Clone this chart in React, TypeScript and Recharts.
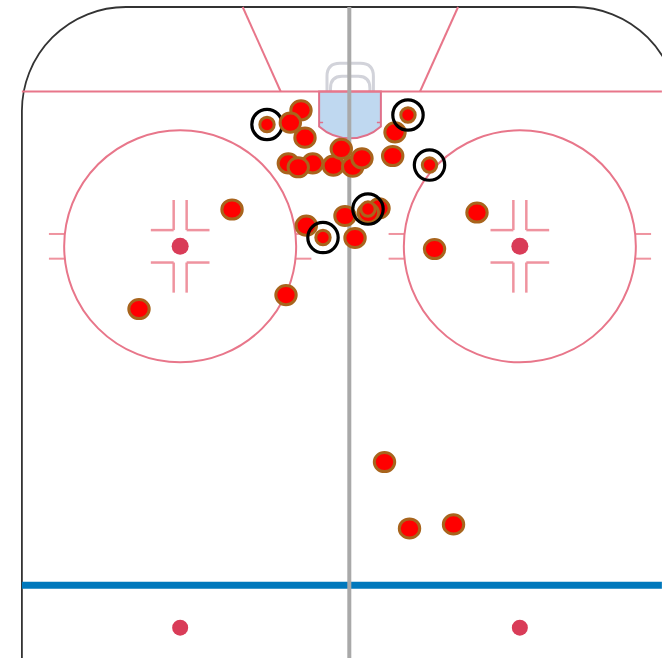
import React from 'react';
import { ScatterChart, Scatter, XAxis, YAxis, ReferenceLine, ReferenceDot, ReferenceArea } from 'recharts';

// all values are in feet: x from centre ice line, y from the end boards
const shotX = [-6.35, -5.83, 5.83, 5.53, -7.99, -4.83, -6.7, -2.16, 0.35, -1.13, 1.55, -0.65, 3.76, 2.37, -5.66, 0.65, 10.95, 16.45, -15.28, -27.33, -8.29, 4.47, 7.71, 13.41];
const shotY = [13.38, 16.93, 16.23, 19.3, 20.25, 20.25, 20.76, 20.56, 20.69, 18.39, 19.6, 27.07, 26.08, 26.68, 28.33, 29.92, 31.35, 26.62, 26.23, 39.12, 37.31, 58.94, 67.55, 67.03];
const goalX = [-10.75, 7.51, 10.3, 2.33, -3.5];
const goalY = [15.22, 13.99, 20.47, 26.17, 29.86];
// this shot sits on top of the ring next to it
const lateShotX = [-7.73];
const lateShotY = [14.99];

const shots = shotX.map((x, i) => ({ x, y: shotY[i] }));
const goals = goalX.map((x, i) => ({ x, y: goalY[i] }));
const lateShots = lateShotX.map((x, i) => ({ x, y: lateShotY[i] }));

const faceoffX = [-22, 22];
const neutralDotY = 80.4;
const faceoffY = 31;

const W = 662;
const H = 658;
const PX_PER_FT = 7.72;
const xDomain = [-350 / PX_PER_FT, 312 / PX_PER_FT];
const yDomain = [-7 / PX_PER_FT, 651 / PX_PER_FT];

const PINK = '#e8768a';
const HASH = '#ef939f';
const DOT = '#d93c58';

const ShotMark = (props: any) => (
  <ellipse cx={props.cx} cy={props.cy} rx={10.2} ry={9.6} fill="#ff0000" stroke="#a8641c" strokeWidth={3} />
);
const GoalMark = (props: any) => (
  <circle cx={props.cx} cy={props.cy} r={7.2} fill="#ff0000" stroke="#a8641c" strokeWidth={3} />
);
const GoalRing = (props: any) => (
  <circle cx={props.cx} cy={props.cy} r={15.2} fill="none" stroke="#000" strokeWidth={3.2} />
);

const Boards = (props: any) => (
  <rect x={props.x} y={props.y} width={props.width} height={props.height} rx={104} ry={104} fill="none" stroke="#333" strokeWidth={1.8} />
);

const Crease = (props: any) => {
  const { x, y, width } = props;
  const r = (width * 6) / 8;
  const side = y + 35;
  return (
    <g>
      <path d={`M${x},${y} V${side} A${r},${r} 0 0 0 ${x + width},${side} V${y} Z`} fill="#bfd8f0" stroke="#e0708a" strokeWidth={2} />
      <path d={`M${x},${y + 31} h4 M${x + width},${y + 31} h-4`} stroke="#e0708a" strokeWidth={1.5} />
    </g>
  );
};

const Net = (props: any) => {
  const { x, y, width, height } = props;
  const inner = 3.5;
  return (
    <g fill="none" stroke="#d2d3da" strokeWidth={3}>
      <path d={`M${x},${y + height} V${y + 13} Q${x},${y} ${x + 13},${y} H${x + width - 13} Q${x + width},${y} ${x + width},${y + 13} V${y + height}`} />
      <path d={`M${x + inner},${y + height} V${y + 25} Q${x + inner},${y + 13} ${x + 15},${y + 13} H${x + width - 15} Q${x + width - inner},${y + 13} ${x + width - inner},${y + 25} V${y + height}`} />
    </g>
  );
};

const seg = (x1: number, y1: number, x2: number, y2: number, stroke: string, w: number, key: string) => (
  <ReferenceLine
    key={key}
    segment={[{ x: x1, y: y1 }, { x: x2, y: y2 }]}
    stroke={stroke}
    strokeWidth={w}
    ifOverflow="visible"
  />
);

const faceoffMarks = (cx: number) => {
  const out: any[] = [];
  [-1, 1].forEach((sx) => {
    [-1, 1].forEach((sy) => {
      const k = `${cx}-${sx}-${sy}`;
      // L shaped hash marks round the dot
      out.push(seg(cx + sx * 0.84, faceoffY + sy * 2.1, cx + sx * 0.84, faceoffY + sy * 6, HASH, 2.5, `v${k}`));
      out.push(seg(cx + sx * 0.84, faceoffY + sy * 2.1, cx + sx * 3.8, faceoffY + sy * 2.1, HASH, 2.5, `h${k}`));
      // ticks outside the circle
      out.push(seg(cx + sx * 15, faceoffY + sy * 1.6, cx + sx * 17, faceoffY + sy * 1.6, HASH, 2, `t${k}`));
    });
  });
  return out;
};

export default function App() {
  return (
    <div style={{ position: 'absolute', left: 0, top: 0, width: W, height: H, overflow: 'hidden' }}>
      <ScatterChart width={W} height={H} margin={{ top: 0, right: 0, bottom: 0, left: 0 }}>
        <XAxis type="number" dataKey="x" hide domain={xDomain} allowDataOverflow />
        <YAxis type="number" dataKey="y" hide domain={yDomain} reversed allowDataOverflow />

        <ReferenceArea x1={-42.5} x2={42.5} y1={0} y2={120} shape={Boards} ifOverflow="visible" />

        {seg(-42.5, 10.95, 40.4, 10.95, PINK, 2, 'goal-line')}
        {seg(-13.9, 0, -8.98, 10.95, PINK, 2, 'trap-l')}
        {seg(14, 0, 9.07, 10.95, PINK, 2, 'trap-r')}
        {seg(-42.5, 74.9, 40.4, 74.9, '#0078bc', 7, 'blue-line')}

        <ReferenceArea x1={-2.98} x2={3.03} y1={7.3} y2={10.95} shape={Net} ifOverflow="visible" />
        <ReferenceArea x1={-4} x2={4} y1={10.95} y2={17} shape={Crease} ifOverflow="visible" />

        {faceoffX.map((cx) => (
          <ReferenceDot key={`c${cx}`} x={cx} y={faceoffY} r={116} fill="none" stroke={PINK} strokeWidth={2} ifOverflow="visible" />
        ))}
        {faceoffX.flatMap(faceoffMarks)}
        {faceoffX.map((cx) => (
          <ReferenceDot key={`d${cx}`} x={cx} y={faceoffY} r={8.5} fill={DOT} stroke="none" ifOverflow="visible" />
        ))}
        {faceoffX.map((cx) => (
          <ReferenceDot key={`n${cx}`} x={cx} y={neutralDotY} r={8} fill={DOT} stroke="none" ifOverflow="visible" />
        ))}

        {seg(-0.09, 0, -0.09, 85, '#a9a9a9', 4, 'centre')}

        <Scatter data={shots} shape={ShotMark} isAnimationActive={false} />
        <Scatter data={goals} shape={GoalMark} isAnimationActive={false} />
        <Scatter data={goals} shape={GoalRing} isAnimationActive={false} />
        <Scatter data={lateShots} shape={ShotMark} isAnimationActive={false} />
      </ScatterChart>
    </div>
  );
}
